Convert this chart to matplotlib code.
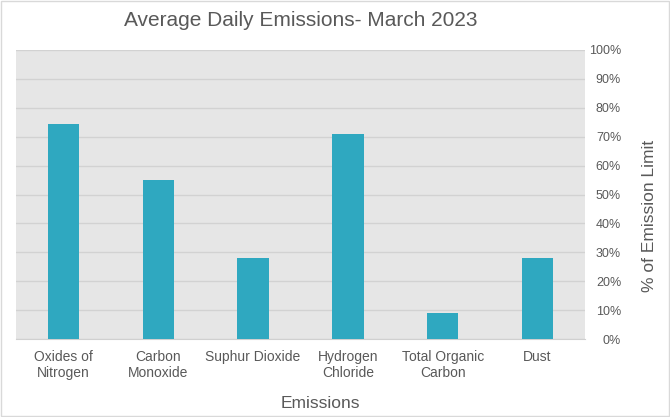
import matplotlib.pyplot as plt
from matplotlib.patches import Rectangle
from matplotlib.ticker import PercentFormatter

# Data
categories = ['Oxides of\nNitrogen', 'Carbon\nMonoxide', 'Suphur Dioxide',
              'Hydrogen\nChloride', 'Total Organic\nCarbon', 'Dust']
pct_of_limit = [74.5, 55, 28, 70.8, 9, 28]
yticks = list(range(0, 101, 10))

plt.rcParams['font.family'] = ['Liberation Sans', 'DejaVu Sans']
text_col = '#595959'

fig = plt.figure(figsize=(6.7, 4.17), dpi=100)
ax = fig.add_axes([16/670, 1 - 339/417, (585-16)/670, (339-50)/417])

ax.bar(range(len(categories)), pct_of_limit, width=0.33, color='#2fa8c0', zorder=3)

ax.set_facecolor('#e6e6e6')
ax.set_xlim(-0.5, len(categories) - 0.5)
ax.set_ylim(0, 100)
ax.set_yticks(yticks)
ax.yaxis.set_major_formatter(PercentFormatter(decimals=0))
ax.yaxis.tick_right()
ax.yaxis.set_label_position('right')
ax.grid(axis='y', color='#d2d2d2', linewidth=1, zorder=0)
for s in ax.spines.values():
    s.set_visible(False)
ax.spines['bottom'].set_visible(True)
ax.spines['bottom'].set_color('#d0d0d0')

ax.set_xticks(range(len(categories)))
ax.set_xticklabels(categories, fontsize=10, color=text_col)
ax.tick_params(axis='x', length=0, pad=8)
ax.tick_params(axis='y', length=0, pad=26, labelsize=9, labelcolor=text_col)
for lbl in ax.get_yticklabels():
    lbl.set_horizontalalignment('right')

ax.set_title('Average Daily Emissions- March 2023', fontsize=15, color=text_col, pad=17)
ax.set_xlabel('Emissions', fontsize=12.5, color=text_col, va='center')
ax.xaxis.set_label_coords((320 - 16) / 569, -(404 - 339) / 289)
ax.set_ylabel('% of Emission Limit', fontsize=12.5, color=text_col, va='center')
ax.yaxis.set_label_coords((650 - 16) / 569, (339 - 216) / 289)

# chart border
fig.patches.append(Rectangle((0.001, 0.002), 0.997, 0.995, transform=fig.transFigure,
                             fill=False, edgecolor='#d9d9d9', linewidth=1))

fig.savefig('out.png', dpi=100)
